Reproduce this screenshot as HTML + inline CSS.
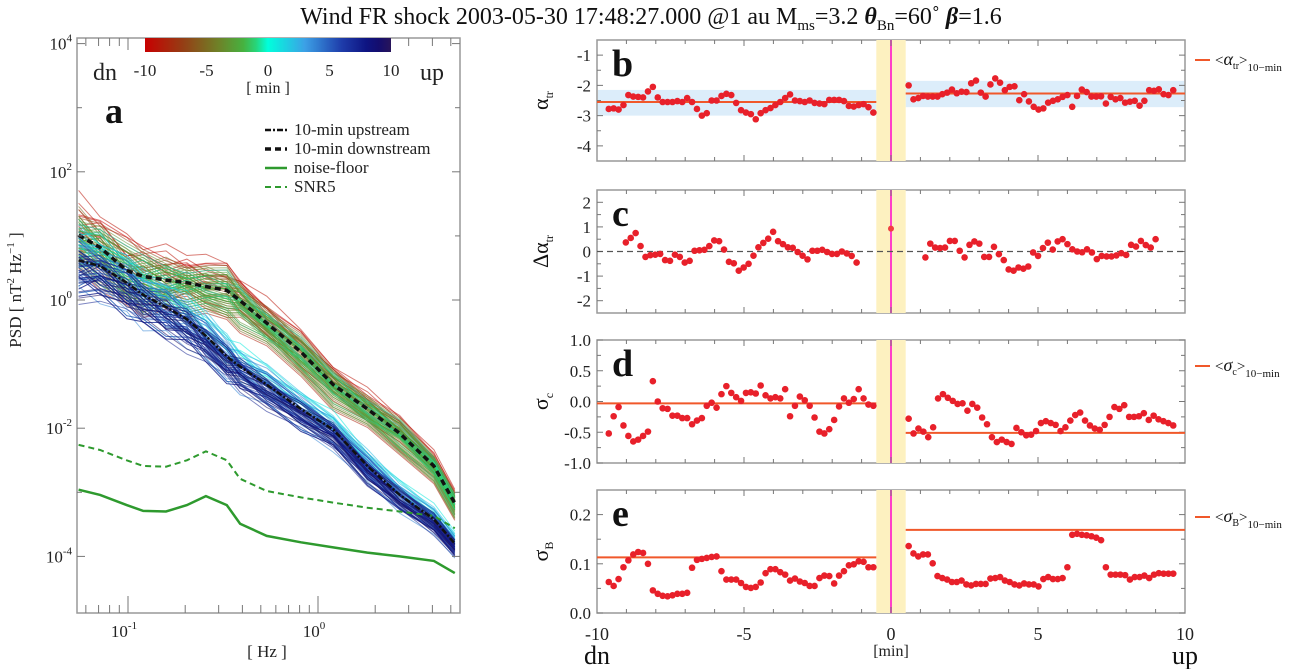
<!DOCTYPE html>
<html><head><meta charset="utf-8"><style>
body{margin:0;background:#fff;}
svg{display:block;font-family:"Liberation Serif",serif;}
</style></head><body>
<svg id="fig" width="1302" height="669" viewBox="0 0 1302 669" xmlns="http://www.w3.org/2000/svg">
<text x="651" y="24" text-anchor="middle" font-size="24" fill="#111">Wind FR shock  2003-05-30 17:48:27.000 @1 au M<tspan font-size="15" dy="6">ms</tspan><tspan dy="-6">=3.2 </tspan><tspan font-style="italic" font-weight="bold">θ</tspan><tspan font-size="15" dy="6">Bn</tspan><tspan dy="-6">=60˚ </tspan><tspan font-style="italic" font-weight="bold">β</tspan>=1.6</text>
<g id="pa"></g>
<g id="pr"></g>
</svg>
<script>
// ---------- Panel a data ----------
const logFreq = [-1.26,-1.147,-1.007,-0.92,-0.80,-0.69,-0.59,-0.48,-0.41,-0.27,-0.09,0.08,0.26,0.43,0.61,0.72];
const downMean = [1.01,0.82,0.46,0.37,0.31,0.27,0.21,0.15,-0.01,-0.36,-0.81,-1.32,-1.70,-2.08,-2.59,-3.17];
const upMean = [0.62,0.53,0.27,0.08,-0.11,-0.30,-0.56,-0.88,-1.04,-1.32,-1.70,-2.02,-2.59,-3.04,-3.42,-3.80];
const noiseFloor = [-2.96,-3.04,-3.20,-3.29,-3.30,-3.20,-3.06,-3.20,-3.49,-3.68,-3.78,-3.86,-3.94,-4.0,-4.07,-4.26];
const snr5 = [-2.26,-2.34,-2.50,-2.59,-2.60,-2.50,-2.36,-2.50,-2.79,-2.98,-3.08,-3.16,-3.24,-3.30,-3.37,-3.56];
const downTimes = [-9.8,-9.4,-9.1,-8.7,-8.4,-8.0,-7.7,-7.3,-7.0,-6.6,-6.3,-5.9,-5.6,-5.2,-4.9,-4.5,-4.2,-3.8,-3.5,-3.1,-2.8,-2.4,-2.1,-1.7,-1.4,-1.0,-0.7,-0.4];
const downOffsets = [0.45,0.35,0.55,0.2,-0.3,0.1,0.3,-0.2,0.15,0.4,-0.1,0.25,0.05,-0.25,0.3,0.2,-0.15,0.1,0.35,-0.05,0.15,0.25,-0.2,0.05,0.2,-0.1,0.1,0.3];
const upTimes = [0.4,0.7,1.0,1.4,1.7,2.1,2.4,2.8,3.1,3.5,3.8,4.2,4.5,4.9,5.2,5.6,5.9,6.3,6.6,7.0,7.3,7.7,8.0,8.4,8.7,9.1,9.4,9.8];
const upOffsets = [0.3,0.45,0.2,0.35,0.1,0.4,-0.1,0.25,0.15,0.05,-0.2,0.3,0.1,-0.05,0.2,-0.15,0.0,0.15,-0.1,0.05,-0.2,0.1,-0.05,0.0,-0.15,0.1,-0.1,0.05];
const wiggleA = [0.1,-0.05,0.15,0.0,0.12,-0.08,0.05,0.1,-0.05,0.0,0.08,-0.04,0.06,0.0,-0.05,0.0];
const wiggleB = [-0.15,0.1,-0.05,0.12,-0.1,0.05,-0.08,0.0,0.1,-0.06,0.0,0.07,-0.05,0.04,0.0,0.02];
const wiggleC = [0.2,0.05,-0.1,-0.05,0.08,0.15,0.0,-0.1,0.05,0.1,-0.04,0.0,0.05,-0.06,0.03,0.0];
const cbTicks = [-10,-5,0,5,10];
const yTicksA = [4,2,0,-2,-4];

// ---------- Right panels data ----------
const bDown = [-2.78,-2.76,-2.80,-2.65,-2.32,-2.37,-2.38,-2.40,-2.20,-2.05,-2.40,-2.55,-2.55,-2.55,-2.52,-2.55,-2.42,-2.55,-2.78,-3.00,-2.92,-2.50,-2.50,-2.35,-2.28,-2.32,-2.58,-2.82,-2.90,-2.95,-3.12,-2.92,-2.82,-2.75,-2.65,-2.55,-2.42,-2.30,-2.50,-2.52,-2.55,-2.50,-2.58,-2.60,-2.62,-2.48,-2.48,-2.48,-2.52,-2.68,-2.70,-2.65,-2.62,-2.72,-2.90];
const bUp = [-2.0,-2.46,-2.42,-2.35,-2.37,-2.37,-2.37,-2.29,-2.24,-2.14,-2.26,-2.21,-2.22,-1.93,-1.84,-2.24,-2.37,-1.97,-1.77,-1.91,-2.16,-2.05,-2.03,-2.49,-2.29,-2.53,-2.71,-2.80,-2.76,-2.57,-2.51,-2.46,-2.38,-2.32,-2.71,-2.35,-2.14,-2.22,-2.37,-2.37,-2.36,-2.60,-2.38,-2.46,-2.42,-2.57,-2.54,-2.51,-2.67,-2.51,-2.16,-2.18,-2.13,-2.29,-2.32,-2.16];
const bMean = [-2.55,-2.27];
const bBandLo = [-3.0,-2.72];
const bBandHi = [-2.15,-1.85];
const cDown = [0.37,0.55,0.75,0.22,-0.22,-0.15,-0.13,-0.1,-0.35,-0.38,-0.13,-0.22,-0.45,-0.38,0.03,0.05,0.07,0.22,0.45,0.42,0.08,-0.42,-0.48,-0.78,-0.65,-0.5,-0.17,0.17,0.35,0.52,0.8,0.42,0.3,0.17,0.15,-0.02,-0.17,-0.32,0.03,0.03,0.07,-0.02,-0.1,-0.1,0.0,-0.08,-0.18,-0.45];
const cUp = [-0.24,0.32,0.16,0.14,0.16,0.43,0.43,0.03,-0.24,0.27,0.41,0.32,-0.22,-0.22,0.19,-0.11,-0.35,-0.73,-0.78,-0.65,-0.70,-0.61,-0.04,-0.18,0.14,0.36,0.08,0.41,0.5,0.3,0.09,0.0,-0.03,0.09,-0.04,-0.31,-0.18,-0.2,-0.2,-0.16,-0.07,-0.14,0.27,0.2,0.43,0.26,0.16,0.5];
const cShock = [0.93];
const dDown = [-0.52,-0.24,-0.09,-0.39,-0.56,-0.65,-0.62,-0.56,-0.49,0.33,0,-0.11,-0.12,-0.23,-0.23,-0.27,-0.27,-0.37,-0.31,-0.27,-0.07,-0.02,-0.1,0.12,0.25,0.14,0.07,0.01,0.14,0.15,0.13,0.26,0.1,0.05,0.07,0.05,0.2,-0.24,-0.07,0.08,0.02,-0.07,-0.26,-0.49,-0.52,-0.45,-0.3,-0.08,0.05,-0.02,0.04,0.2,0.05,-0.05,-0.07];
const dUp = [-0.28,-0.52,-0.44,-0.49,-0.58,-0.42,0.05,0.12,0.06,0.01,-0.04,-0.03,-0.15,-0.04,-0.1,-0.26,-0.37,-0.58,-0.66,-0.62,-0.66,-0.69,-0.43,-0.5,-0.55,-0.54,-0.48,-0.35,-0.32,-0.35,-0.38,-0.48,-0.42,-0.31,-0.22,-0.18,-0.31,-0.39,-0.44,-0.46,-0.38,-0.25,-0.09,-0.12,-0.06,-0.25,-0.25,-0.24,-0.19,-0.3,-0.23,-0.29,-0.32,-0.35,-0.39];
const dMean = [-0.03,-0.51];
const eDown = [0.063,0.055,0.069,0.093,0.107,0.119,0.124,0.122,0.1,0.046,0.039,0.035,0.034,0.036,0.039,0.039,0.041,0.092,0.108,0.11,0.112,0.114,0.115,0.085,0.068,0.068,0.068,0.061,0.053,0.051,0.053,0.062,0.081,0.089,0.089,0.083,0.078,0.066,0.07,0.064,0.061,0.055,0.055,0.071,0.076,0.075,0.06,0.076,0.085,0.097,0.099,0.105,0.104,0.093,0.093];
const eUp = [0.136,0.121,0.115,0.119,0.119,0.101,0.075,0.071,0.068,0.063,0.063,0.066,0.058,0.056,0.059,0.059,0.059,0.07,0.071,0.073,0.066,0.063,0.058,0.056,0.06,0.058,0.058,0.054,0.069,0.073,0.069,0.069,0.071,0.093,0.159,0.161,0.159,0.158,0.156,0.153,0.148,0.093,0.078,0.078,0.078,0.077,0.068,0.073,0.073,0.076,0.071,0.078,0.081,0.08,0.08,0.08];
const eMean = [0.113,0.169];
const xTicksR = [-10,-5,0,5,10];

const NS="http://www.w3.org/2000/svg";
function mk(parent,tag,attrs,text){const e=document.createElementNS(NS,tag);for(const k in attrs)e.setAttribute(k,attrs[k]);if(text!==undefined)e.textContent=text;parent.appendChild(e);return e;}

// ---------- Panel a ----------
const pa=document.getElementById('pa');
const AL=77,AR=460,AT=38,AB=613;
const ax=lf=>128+(lf+1)*190;
const ay=lp=>300-lp*64.1;
function cmap(t){
  const stops=[[-10,[200,0,0]],[-7,[150,60,20]],[-4,[110,130,40]],[-1.5,[60,190,70]],[0,[0,255,220]],[3,[60,160,230]],[6,[30,60,170]],[8.5,[10,10,120]],[10,[40,20,90]]];
  for(let i=0;i<stops.length-1;i++){const a=stops[i],b=stops[i+1];if(t<=b[0]){const f=(t-a[0])/(b[0]-a[0]);const c=a[1].map((v,j)=>Math.round(v+(b[1][j]-v)*f));return `rgb(${c})`;}}
  return 'rgb(40,20,90)';
}
mk(pa,'rect',{x:AL,y:AT,width:AR-AL,height:AB-AT,fill:'#fff',stroke:'#999','stroke-width':1.5,});
const clip=mk(pa,'clipPath',{id:'clipA'});mk(clip,'rect',{x:AL,y:AT,width:AR-AL,height:AB-AT});
const cg=mk(pa,'g',{'clip-path':'url(#clipA)'});
const wig=[wiggleA,wiggleB,wiggleC];
function pathOf(xs,ys){return xs.map((x,i)=>(i?'L':'M')+ax(x).toFixed(1)+','+ay(ys[i]).toFixed(1)).join('');}
function drawSet(times,offs,mean){
  times.forEach((t,k)=>{
    for(let r=0;r<3;r++){
      const w=wig[(k+r)%3],s=(r-1)*0.18;
      const ys=mean.map((m,i)=>m+(offs[k]+s)*(1-i/25)+w[i]*(r===1?1:-0.8));
      const p=mk(cg,'path',{d:pathOf(logFreq,ys),fill:'none',stroke:cmap(t),'stroke-width':1,'stroke-opacity':0.55});
      
      
    }
  });
}
drawSet(downTimes,downOffsets.map(v=>v-0.15),downMean);
drawSet(upTimes,upOffsets.map(v=>v-0.15),upMean);
mk(cg,'path',{d:pathOf(logFreq,noiseFloor),fill:'none',stroke:'#2e9a2e','stroke-width':2.5,});
mk(cg,'path',{d:pathOf(logFreq,snr5),fill:'none',stroke:'#2e9a2e','stroke-width':2,'stroke-dasharray':'6,4',});
mk(cg,'path',{d:pathOf(logFreq,upMean),fill:'none',stroke:'#111','stroke-width':2.5,'stroke-dasharray':'6,2,2,2',});
mk(cg,'path',{d:pathOf(logFreq,downMean),fill:'none',stroke:'#111','stroke-width':3.5,'stroke-dasharray':'6,4',});
yTicksA.forEach(v=>{
  const y=ay(v);
  mk(pa,'line',{x1:AL,x2:AL+8,y1:y,y2:y,stroke:'#777'});mk(pa,'line',{x1:AR-8,x2:AR,y1:y,y2:y,stroke:'#777'});
  const t=mk(pa,'text',{x:AL-5,y:y+6,'text-anchor':'end','font-size':17,fill:'#222',},'10');
  mk(t,'tspan',{dy:-8,'font-size':11},String(v));
});
[3,1,-1,-3].forEach(v=>{const y=ay(v);mk(pa,'line',{x1:AL,x2:AL+5,y1:y,y2:y,stroke:'#777'});mk(pa,'line',{x1:AR-5,x2:AR,y1:y,y2:y,stroke:'#777'});});
[-1,0].forEach(v=>{
  const x=ax(v);
  mk(pa,'line',{x1:x,x2:x,y1:AB,y2:AB-17,stroke:'#777'});mk(pa,'line',{x1:x,x2:x,y1:AT,y2:AT+12,stroke:'#777'});
  const t=mk(pa,'text',{x:x-4,y:AB+24,'text-anchor':'middle','font-size':17,fill:'#222',},'10');
  mk(t,'tspan',{dy:-8,'font-size':11},String(v));
});
[0.06,0.07,0.08,0.09,0.2,0.3,0.4,0.5,0.6,0.7,0.8,0.9,2,3,4,5].forEach(f=>{const x=ax(Math.log10(f));mk(pa,'line',{x1:x,x2:x,y1:AB,y2:AB-8,stroke:'#777'});mk(pa,'line',{x1:x,x2:x,y1:AT,y2:AT+8,stroke:'#777'});});
mk(pa,'text',{x:267,y:657,'text-anchor':'middle','font-size':17,fill:'#222',},'[ Hz ]');
const yl=mk(pa,'text',{x:0,y:0,transform:'translate(21,290) rotate(-90)','text-anchor':'middle','font-size':17,fill:'#222',},'PSD [ nT');
mk(yl,'tspan',{dy:-7,'font-size':11},'2');mk(yl,'tspan',{dy:7},' Hz');mk(yl,'tspan',{dy:-7,'font-size':11},'−1');mk(yl,'tspan',{dy:7},' ]');
const CBL=145,CBR=391;
const grad=mk(pa,'linearGradient',{id:'cbg',x1:0,x2:1,y1:0,y2:0});
for(let i=0;i<=20;i++){mk(grad,'stop',{offset:(i/20),'stop-color':cmap(-10+i)});}
mk(pa,'rect',{x:CBL,y:38,width:CBR-CBL,height:14,fill:'url(#cbg)',});
cbTicks.forEach(v=>{const x=CBL+(v+10)/20*(CBR-CBL);mk(pa,'text',{x:x,y:76,'text-anchor':'middle','font-size':17,fill:'#222',},String(v));});
mk(pa,'text',{x:268,y:93,'text-anchor':'middle','font-size':16,fill:'#222',},'[ min ]');
mk(pa,'text',{x:105,y:80,'text-anchor':'middle','font-size':24,fill:'#222',},'dn');
mk(pa,'text',{x:432,y:80,'text-anchor':'middle','font-size':24,fill:'#222',},'up');
mk(pa,'text',{x:105,y:123,'font-size':36,'font-weight':'bold',fill:'#111',},'a');
const leg=[['10-min upstream',{stroke:'#111','stroke-width':2.5,'stroke-dasharray':'6,2,2,2'}],['10-min downstream',{stroke:'#111','stroke-width':3.5,'stroke-dasharray':'6,4'}],['noise-floor',{stroke:'#2e9a2e','stroke-width':2.5}],['SNR5',{stroke:'#2e9a2e','stroke-width':2,'stroke-dasharray':'6,4'}]];
leg.forEach((l,i)=>{const y=130+i*19;const g=mk(pa,'g',{});
  mk(g,'line',Object.assign({x1:265,x2:287,y1:y,y2:y},l[1]));mk(g,'text',{x:294,y:y+5,'font-size':17,fill:'#222'},l[0]);});

// ---------- Right panels ----------
const pr=document.getElementById('pr');
const RL=597,RR=1185;
const rx=t=>891+t*29.4;
function panel(name,top,bot,ymin,ymax,ticks,minor,label,sub,letter,fmt){
  const g=mk(pr,'g',{});
  const ys=v=>bot-(v-ymin)/(ymax-ymin)*(bot-top);
  mk(g,'rect',{x:RL,y:top,width:RR-RL,height:bot-top,fill:'#fff',stroke:'#999','stroke-width':1.5});
  mk(g,'rect',{x:rx(-0.5),y:top,width:rx(0.5)-rx(-0.5),height:bot-top,fill:'#fdf1c0',});
  mk(g,'line',{x1:rx(0),x2:rx(0),y1:top,y2:bot,stroke:'#ff40c8','stroke-width':2,});
  for(let t=-9;t<=9;t++){const x=rx(t),L=t%5===0?6:4;mk(g,'line',{x1:x,x2:x,y1:bot,y2:bot-L,stroke:'#777'});mk(g,'line',{x1:x,x2:x,y1:top,y2:top+L,stroke:'#777'});}
  ticks.forEach(v=>{const y=ys(v);mk(g,'line',{x1:RL,x2:RL+6,y1:y,y2:y,stroke:'#777'});mk(g,'line',{x1:RR-6,x2:RR,y1:y,y2:y,stroke:'#777'});
    mk(g,'text',{x:RL-6,y:y+6,'text-anchor':'end','font-size':17,fill:'#222',},fmt(v));});
  minor.forEach(v=>{const y=ys(v);mk(g,'line',{x1:RL,x2:RL+4,y1:y,y2:y,stroke:'#777'});mk(g,'line',{x1:RR-4,x2:RR,y1:y,y2:y,stroke:'#777'});});
  const yt=mk(g,'text',{transform:`translate(548,${(top+bot)/2}) rotate(-90)`,'text-anchor':'middle','font-size':22,fill:'#111',},label);
  mk(yt,'tspan',{dy:5,'font-size':12,'font-style':'normal'},sub);
  mk(g,'text',{x:612,y:top+36,'font-size':38,'font-weight':'bold',fill:'#111',},letter);
  return {g,ys};
}
function dots(p,vals,t0,t1){
  const n=vals.length;
  vals.forEach((v,i)=>{const t=t0+(t1-t0)*i/(n-1);
    const c=mk(p.g,'circle',{cx:rx(t),cy:p.ys(v),r:3.3,fill:'#e8202a'});
    
    });
}
function meanLines(p,m){
  mk(p.g,'line',{x1:RL,x2:rx(-0.5),y1:p.ys(m[0]),y2:p.ys(m[0]),stroke:'#f0582a','stroke-width':2,});
  mk(p.g,'line',{x1:rx(0.5),x2:RR,y1:p.ys(m[1]),y2:p.ys(m[1]),stroke:'#f0582a','stroke-width':2,});
}
const f0=v=>String(v);
const f1=v=>v.toFixed(1);
const pb=panel('alpha-panel',40,161,-4.5,-0.5,[-4,-3,-2,-1],[-3.5,-2.5,-1.5],'α','tr','b',f0);
pb.g.insertBefore(mk(pb.g,'rect',{x:RL+1,y:pb.ys(bBandHi[0]),width:rx(-0.5)-RL-1,height:pb.ys(bBandLo[0])-pb.ys(bBandHi[0]),fill:'#dcedfa',}),pb.g.children[1]);
pb.g.insertBefore(mk(pb.g,'rect',{x:rx(0.5),y:pb.ys(bBandHi[1]),width:RR-rx(0.5)-1,height:pb.ys(bBandLo[1])-pb.ys(bBandHi[1]),fill:'#dcedfa',}),pb.g.children[1]);
meanLines(pb,bMean);dots(pb,bDown,-9.6,-0.6);dots(pb,bUp,0.6,9.6);
const pc=panel('delta-alpha-panel',190,313,-2.5,2.5,[-2,-1,0,1,2],[-1.5,-0.5,0.5,1.5],'Δα','tr','c',f0);
mk(pc.g,'line',{x1:RL,x2:RR,y1:pc.ys(0),y2:pc.ys(0),stroke:'#555','stroke-width':1.3,'stroke-dasharray':'6,4',});
dots(pc,cDown,-9.02,-1.17);dots(pc,cUp,1.17,9.0);
const sc=mk(pc.g,'circle',{cx:rx(0),cy:pc.ys(cShock[0]),r:3,fill:'#f04040'});


const pd=panel('cross-helicity-panel',340,463,-1,1,[-1,-0.5,0,0.5,1],[-0.75,-0.25,0.25,0.75],'σ','c','d',f1);
meanLines(pd,dMean);dots(pd,dDown,-9.6,-0.6);dots(pd,dUp,0.6,9.6);
const pe=panel('sigma-b-panel',490,613,0,0.25,[0,0.1,0.2],[0.05,0.15],'σ','B','e',f1);
meanLines(pe,eMean);dots(pe,eDown,-9.6,-0.6);dots(pe,eUp,0.6,9.6);
xTicksR.forEach(v=>mk(pr,'text',{x:rx(v),y:640,'text-anchor':'middle','font-size':18,fill:'#222',},String(v)));
mk(pr,'text',{x:891,y:656,'text-anchor':'middle','font-size':16,fill:'#222',},'[min]');
mk(pr,'text',{x:597,y:664,'text-anchor':'middle','font-size':26,fill:'#111',},'dn');
mk(pr,'text',{x:1185,y:664,'text-anchor':'middle','font-size':26,fill:'#111',},'up');
[[60,'α','tr'],[366,'σ','c'],[517,'σ','B']].forEach(l=>{
  const g=mk(pr,'g',{});
  mk(g,'line',{x1:1195,x2:1210,y1:l[0],y2:l[0],stroke:'#f0582a','stroke-width':2});
  const t=mk(g,'text',{x:1215,y:l[0]+5,'font-size':15,fill:'#111'},'<');
  mk(t,'tspan',{'font-size':18,'font-style':'italic'},l[1]);
  mk(t,'tspan',{'font-size':10,dy:4},l[2]);
  mk(t,'tspan',{dy:-4},'>');
  mk(t,'tspan',{'font-size':11,dy:6},'10−min');
});
</script>
</body></html>
